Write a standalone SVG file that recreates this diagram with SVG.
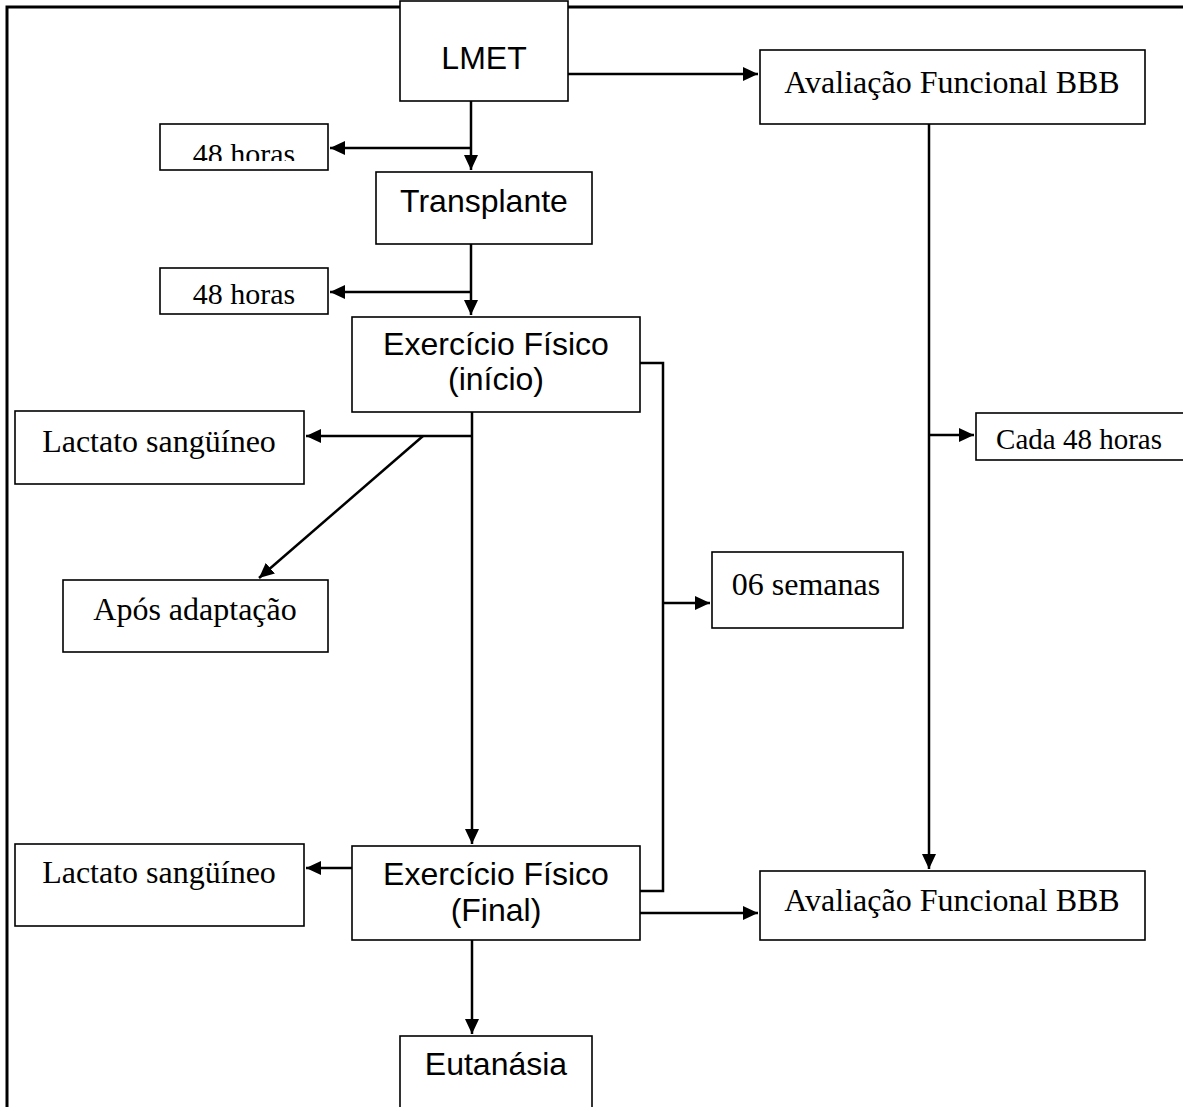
<svg xmlns="http://www.w3.org/2000/svg" width="1183" height="1107" viewBox="0 0 1183 1107">
<style>
.box{fill:#fff;stroke:#000;stroke-width:1.6}
.a{font-family:"Liberation Sans",Arial,sans-serif;font-size:32px;fill:#000;text-anchor:middle}
.t{font-family:"Liberation Serif","Times New Roman",serif;font-size:32px;fill:#000;text-anchor:middle}
.s{font-size:30px}
.s2{font-size:29px}
.c{fill:none;stroke:#000;stroke-width:2.5}
</style>
<defs>
<marker id="ah" markerUnits="userSpaceOnUse" markerWidth="16" markerHeight="14" refX="15" refY="7" orient="auto">
<path d="M0,0 L15,7 L0,14 Z" fill="#000"/>
</marker>
<clipPath id="clip1"><rect x="160" y="124" width="168" height="37"/></clipPath>
</defs>
<rect width="1183" height="1107" fill="#fff"/>
<g id="frame"><path d="M7,1107 V7 H1183" fill="none" stroke="#000" stroke-width="3"/></g>
<g id="connectors">
<path class="c" d="M568,74 H758" marker-end="url(#ah)"/>
<path class="c" d="M471,101 V170" marker-end="url(#ah)"/>
<path class="c" d="M471,148 H330" marker-end="url(#ah)"/>
<path class="c" d="M471,244 V315" marker-end="url(#ah)"/>
<path class="c" d="M471,292 H330" marker-end="url(#ah)"/>
<path class="c" d="M472,412 V844" marker-end="url(#ah)"/>
<path class="c" d="M472,436 H306" marker-end="url(#ah)"/>
<path class="c" d="M423,436 L259,578" marker-end="url(#ah)"/>
<path class="c" d="M640,363 H663 V891 H640"/>
<path class="c" d="M663,603 H710" marker-end="url(#ah)"/>
<path class="c" d="M929,124 V869" marker-end="url(#ah)"/>
<path class="c" d="M929,435 H974" marker-end="url(#ah)"/>
<path class="c" d="M352,868 H306" marker-end="url(#ah)"/>
<path class="c" d="M640,913 H758" marker-end="url(#ah)"/>
<path class="c" d="M472,940 V1034" marker-end="url(#ah)"/>
</g>
<g id="lmet"><rect class="box" x="400" y="1" width="168" height="100"/><text class="a" x="484" y="69">LMET</text></g>
<g id="bbb1"><rect class="box" x="760" y="50" width="385" height="74"/><text class="t" x="952" y="93">Avaliação Funcional BBB</text></g>
<g id="h48a"><rect class="box" x="160" y="124" width="168" height="46"/><text class="t s" x="244" y="164" clip-path="url(#clip1)">48 horas</text></g>
<g id="transplante"><rect class="box" x="376" y="172" width="216" height="72"/><text class="a" x="484" y="212">Transplante</text></g>
<g id="h48b"><rect class="box" x="160" y="268" width="168" height="46"/><text class="t s" x="244" y="304">48 horas</text></g>
<g id="ex1"><rect class="box" x="352" y="317" width="288" height="95"/><text class="a" x="496" y="355">Exercício Físico</text><text class="a" x="496" y="390">(início)</text></g>
<g id="lact1"><rect class="box" x="15" y="411" width="289" height="73"/><text class="t" x="159" y="452">Lactato sangüíneo</text></g>
<g id="cada"><rect class="box" x="976" y="413" width="220" height="47"/><text class="t s2" x="1079" y="449">Cada 48 horas</text></g>
<g id="apos"><rect class="box" x="63" y="580" width="265" height="72"/><text class="t" x="195" y="620">Após adaptação</text></g>
<g id="sem"><rect class="box" x="712" y="552" width="191" height="76"/><text class="t" x="806" y="595">06 semanas</text></g>
<g id="lact2"><rect class="box" x="15" y="844" width="289" height="82"/><text class="t" x="159" y="883">Lactato sangüíneo</text></g>
<g id="ex2"><rect class="box" x="352" y="846" width="288" height="94"/><text class="a" x="496" y="885">Exercício Físico</text><text class="a" x="496" y="921">(Final)</text></g>
<g id="bbb2"><rect class="box" x="760" y="871" width="385" height="69"/><text class="t" x="952" y="911">Avaliação Funcional BBB</text></g>
<g id="eut"><rect class="box" x="400" y="1036" width="192" height="80"/><text class="a" x="496" y="1075">Eutanásia</text></g>
</svg>
